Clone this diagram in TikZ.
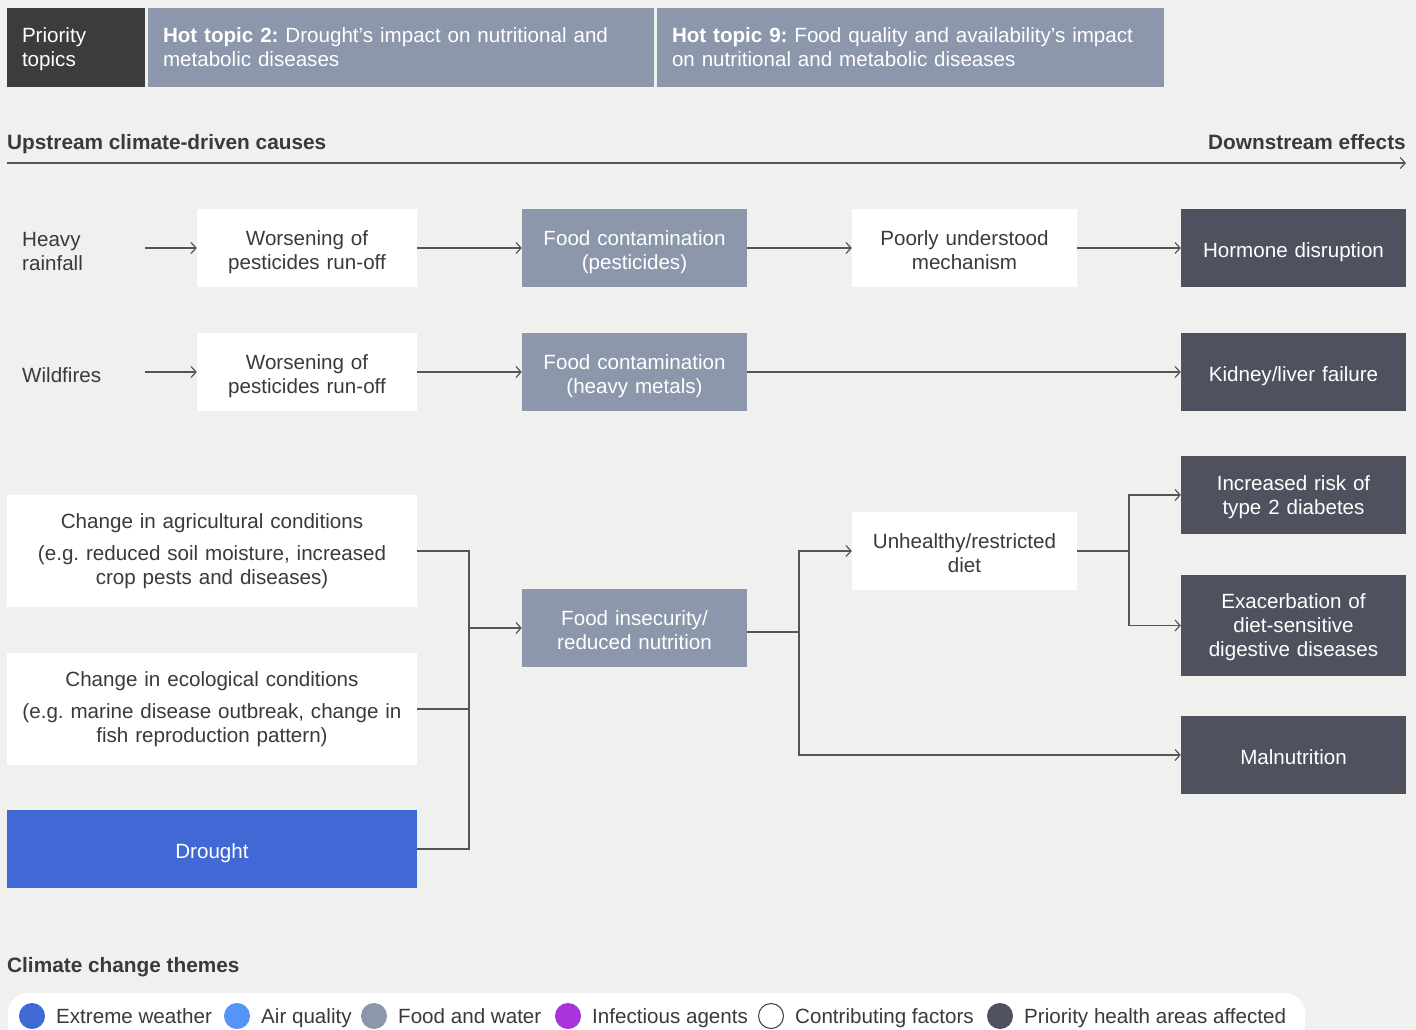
\documentclass[tikz,border=0pt]{standalone}
\usepackage{fontspec}
\setmainfont{Liberation Sans}
\usetikzlibrary{arrows.meta,calc}
\definecolor{bgpaper}{HTML}{F0F0EE}
\definecolor{foodgray}{HTML}{8C97AB}
\definecolor{healthdark}{HTML}{4F525E}
\definecolor{topicdark}{HTML}{3D3C3A}
\definecolor{droughtblue}{HTML}{4169D6}
\definecolor{airblue}{HTML}{5595F5}
\definecolor{infectpurple}{HTML}{A834DB}
\definecolor{inktext}{HTML}{3A3A3A}
\definecolor{linegray}{HTML}{555555}
\newcommand{\bodyfont}{\fontsize{20.6}{24}\selectfont\frenchspacing}
\newcommand{\headfont}{\fontsize{20.8}{24}\selectfont\bfseries}
\newcommand{\lowtexttop}{24pt}
\newcommand{\lowtextbot}{6pt}
\tikzset{
  lowtext/.code 2 args={\def\lowtexttop{#1}\def\lowtextbot{#2}},
  struts/.style={execute at begin node={\rule{0pt}{\lowtexttop}}, execute at end node={\rule[-\lowtextbot]{0pt}{0pt}}},
  box/.style={rectangle, inner sep=0pt, align=center, font=\bodyfont, struts, lowtext={24pt}{6pt}},
  narrow/.style={minimum width=220, text width=210},
  mid/.style={minimum width=225, text width=215},
  wide/.style={minimum width=410, text width=400},
  factorbox/.style={box, fill=white, text=inktext},
  foodbox/.style={box, fill=foodgray, text=white},
  healthbox/.style={box, fill=healthdark, text=white},
  topicbox/.style={rectangle, inner xsep=15pt, inner ysep=0pt, align=left, font=\bodyfont, text=white, struts, lowtext={20pt}{5pt}},
  plain/.style={inner sep=0pt, font=\bodyfont, text=inktext},
  sidetext/.style={plain, anchor=west, align=left, text width=123, struts, lowtext={24pt}{4pt}},
  link/.style={draw=linegray, line width=1.2pt},
  arr/.style={link, -{Straight Barb[length=5pt,width=11pt]}},
}

\begin{document}
\begin{tikzpicture}[x=1pt, y=-1pt]
  \fill[bgpaper] (0,0) rectangle (1416,1030);
  \useasboundingbox (0,0) rectangle (1416,1030);

  % priority topics
  \node[topicbox, fill=topicdark, minimum width=138, minimum height=79, text width=108] (prio) at (76,47.5) {Priority\\topics};
  \node[topicbox, fill=foodgray, minimum width=506, minimum height=79, text width=476] (hot2) at (401,47.5) {\textbf{Hot topic 2:} Drought’s impact on nutritional and\\metabolic diseases};
  \node[topicbox, fill=foodgray, minimum width=507, minimum height=79, text width=477] (hot9) at (910.5,47.5) {\textbf{Hot topic 9:} Food quality and availability’s impact\\on nutritional and metabolic diseases};

  % axis
  \node[plain, font=\headfont, anchor=base west] (up) at (7,149.5) {Upstream climate-driven causes};
  \node[plain, font=\headfont, anchor=base east] (down) at (1406,149.5) {Downstream effects};
  \coordinate (axisL) at (7,163);
  \coordinate (axisR) at (1406,163);
  \draw[arr] (axisL) -- (axisR);

  % row 1
  \node[sidetext] (rain) at (22,248) {Heavy\\rainfall};
  \node[factorbox, narrow, minimum height=78] (wor1) at (307,248) {Worsening of\\pesticides run-off};
  \node[foodbox, mid, minimum height=78] (cpest) at (634.5,248) {Food contamination\\(pesticides)};
  \node[factorbox, mid, minimum height=78] (mech) at (964.5,248) {Poorly understood\\mechanism};
  \node[healthbox, mid, minimum height=78] (horm) at (1293.5,248) {Hormone disruption};
  \draw[arr] (rain) -- (wor1);
  \draw[arr] (wor1) -- (cpest);
  \draw[arr] (cpest) -- (mech);
  \draw[arr] (mech) -- (horm);

  % row 2
  \node[sidetext] (fire) at (22,372) {Wildfires};
  \node[factorbox, narrow, minimum height=78] (wor2) at (307,372) {Worsening of\\pesticides run-off};
  \node[foodbox, mid, minimum height=78] (cmetal) at (634.5,372) {Food contamination\\(heavy metals)};
  \node[healthbox, mid, minimum height=78] (kidney) at (1293.5,372) {Kidney/liver failure};
  \draw[arr] (fire) -- (wor2);
  \draw[arr] (wor2) -- (cmetal);
  \draw[arr] (cmetal) -- (kidney);

  % drought branch
  \node[factorbox, wide, minimum height=112, lowtext={16pt}{6pt}] (agri) at (212,551) {Change in agricultural conditions\\[8pt](e.g. reduced soil moisture, increased\\crop pests and diseases)};
  \node[factorbox, wide, minimum height=112, lowtext={16pt}{6pt}] (eco) at (212,709) {Change in ecological conditions\\[8pt](e.g. marine disease outbreak, change in\\fish reproduction pattern)};
  \node[box, wide, fill=droughtblue, text=white, minimum height=78] (drought) at (212,849) {Drought};
  \node[foodbox, mid, minimum height=78] (insec) at (634.5,628) {Food insecurity/\\reduced nutrition};
  \node[factorbox, mid, minimum height=78] (diet) at (964.5,551) {Unhealthy/restricted\\diet};
  \node[healthbox, mid, minimum height=78, lowtext={20pt}{6pt}] (diab) at (1293.5,495) {Increased risk of\\type 2 diabetes};
  \node[healthbox, mid, minimum height=101, lowtext={20pt}{6pt}] (digest) at (1293.5,625.5) {Exacerbation of\\diet-sensitive\\digestive diseases};
  \node[healthbox, mid, minimum height=78] (maln) at (1293.5,755) {Malnutrition};

  \coordinate (joinA) at (469,628);
  \coordinate (joinB) at (799,632);
  \coordinate (joinC) at (1129,551);
  \draw[link] (agri.east) -- (agri.east -| joinA) -- (drought.east -| joinA) -- (drought.east);
  \draw[link] (eco.east) -- (eco.east -| joinA);
  \draw[arr] (joinA) -- (insec.west |- joinA);
  \draw[link] ([yshift=-4pt]insec.east) -- (joinB);
  \draw[arr] (joinB) -- (joinB |- diet.west) -- (diet.west);
  \draw[arr] (joinB) -- (joinB |- maln.west) -- (maln.west);
  \draw[link] (diet.east) -- (joinC);
  \draw[arr] (joinC) -- (joinC |- diab.west) -- (diab.west);
  \draw[arr] (joinC) -- (joinC |- digest.west) -- (digest.west);

  % legend
  \node[plain, font=\headfont, anchor=base west] (themes) at (7,972.5) {Climate change themes};
  \fill[white, rounded corners=20pt] (8,993) rectangle (1305,1050);
  \foreach \cx/\col/\edge/\lab [count=\i] in {
      32/droughtblue/droughtblue/Extreme weather,
      237/airblue/airblue/Air quality,
      374/foodgray/foodgray/Food and water,
      568/infectpurple/infectpurple/Infectious agents,
      771/white/inktext/Contributing factors,
      1000/healthdark/healthdark/Priority health areas affected}{
    \node[circle, fill=\col, draw=\edge, line width=1pt, minimum size=25, inner sep=0pt] (dot\i) at (\cx,1016) {};
    \node[plain, anchor=base west] (key\i) at ([xshift=11pt]dot\i.east |- 0,1023.5) {\lab};
  }
\end{tikzpicture}
\end{document}
